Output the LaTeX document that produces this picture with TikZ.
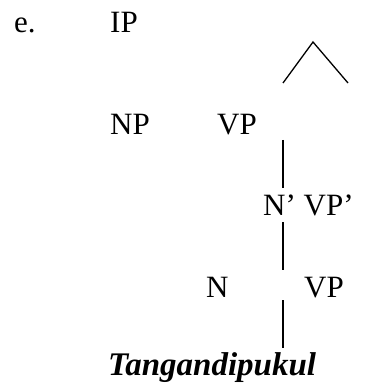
\documentclass[tikz,border=0pt]{standalone}
\usepackage{fontspec}
\setmainfont{Liberation Serif}
\usepackage{xcolor}
\definecolor{tdark}{HTML}{000000}

\tikzset{
	lbl/.style={anchor=base west, inner sep=0pt, font=\fontsize{31}{36}\selectfont, text=tdark},
	word/.style={lbl, font=\fontsize{33}{38}\selectfont\bfseries\itshape},
	branch/.style={color=tdark, line width=1.3pt}
}

\begin{document}
\begin{tikzpicture}[x=1pt, y=-1pt]
		\useasboundingbox (0,0) rectangle (379,387);
		\node[lbl] (ex) at (14,33) {e.};
		\node[lbl] (ip) at (110,33) {IP};
		\node[lbl] (np) at (110,135) {NP};
		\node[lbl] (vp) at (217,135) {VP};
		\node[lbl] (nbvp) at (263,215) {N’ VP’};
		\node[lbl] (n) at (206,297) {N};
		\node[lbl] (vpb) at (304,297) {VP};
		\node[word] (verb) at (108,375) {Tangandipukul};
		% roof
		\coordinate (top) at (313,42);
		\coordinate (left) at (283,83);
		\coordinate (right) at (348,83);
		\draw[branch] (left) -- (top) -- (right);
		% vertical branches
		\coordinate (a1) at (283,140);
		\coordinate (a2) at (283,188);
		\coordinate (b1) at (283,222);
		\coordinate (b2) at (283,270);
		\coordinate (c1) at (283,300);
		\coordinate (c2) at (283,348);
		\draw[branch] (a1) -- (a2);
		\draw[branch] (b1) -- (b2);
		\draw[branch] (c1) -- (c2);
	\end{tikzpicture}
\end{document}
